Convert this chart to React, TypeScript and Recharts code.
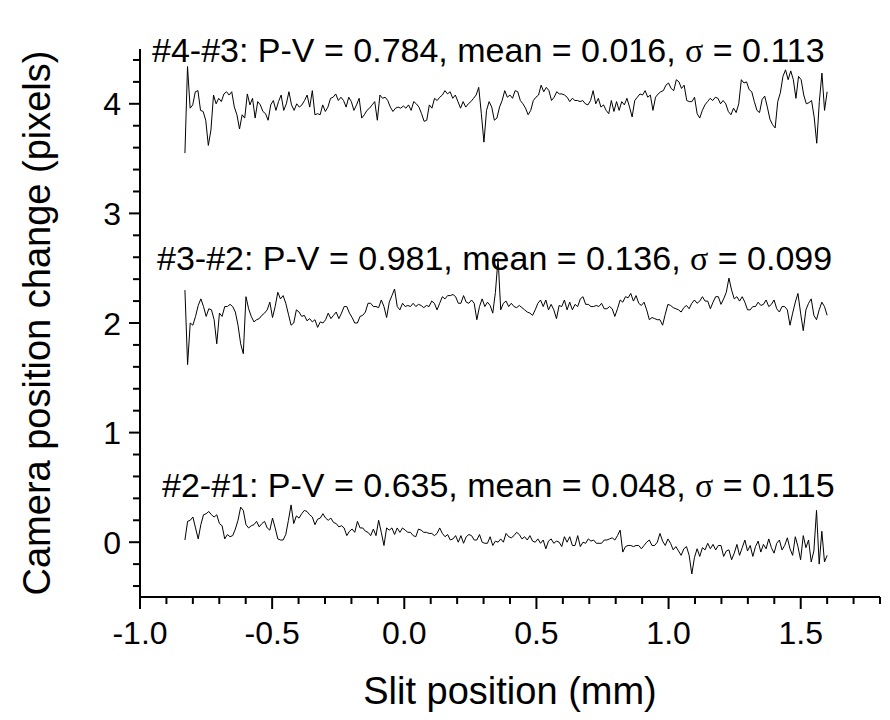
import React from 'react';
import { LineChart, Line, XAxis, YAxis } from 'recharts';

// slit scan range (mm) - samples are evenly spaced between these
const X_START = -0.83;
const X_END = 1.6;

const xTicks = [
  -1.0, -0.9, -0.8, -0.7, -0.6, -0.5, -0.4, -0.3, -0.2, -0.1, 0.0, 0.1, 0.2, 0.3, 0.4,
  0.5, 0.6, 0.7, 0.8, 0.9, 1.0, 1.1, 1.2, 1.3, 1.4, 1.5, 1.6, 1.7, 1.8,
];
const yTicks = [
  -0.4, -0.2, 0, 0.2, 0.4, 0.6, 0.8, 1, 1.2, 1.4, 1.6, 1.8, 2, 2.2, 2.4, 2.6, 2.8, 3,
  3.2, 3.4, 3.6, 3.8, 4, 4.2, 4.4,
];

const diff43 = [
  3.55, 4.34, 3.96, 3.99, 4.11, 4.12, 3.94, 3.93, 3.85, 3.62, 3.76, 4.08, 4.0, 4.05, 4.02, 4.09,
  4.11, 4.08, 4.11, 3.97, 3.9, 3.77, 3.9, 3.87, 4.09, 3.99, 4.05, 3.87, 4.02, 3.99, 3.93, 3.91,
  3.85, 3.99, 4.03, 3.94, 4.02, 4.08, 3.94, 4.0, 4.11, 3.99, 3.94, 4.0, 3.97, 3.99, 4.03, 4.08,
  3.97, 4.12, 3.9, 3.91, 3.9, 3.99, 3.93, 3.97, 4.05, 4.06, 4.09, 4.03, 4.06, 4.03, 3.97, 4.06,
  4.02, 3.94, 3.99, 4.05, 3.87, 3.9, 3.94, 3.96, 3.99, 4.02, 3.85, 4.08, 4.05, 4.06, 4.03, 3.97,
  3.93, 3.96, 3.97, 3.96, 3.98, 3.96, 3.99, 3.94, 4.02, 4.0, 3.97,
  3.91, 3.84, 3.85, 3.99, 3.96, 4.05, 4.03, 4.06, 4.08, 4.12, 4.09, 4.11, 4.05, 4.08, 4.02, 3.96,
  4.02, 3.97, 4.0, 4.02, 4.05, 4.08, 4.15, 3.91, 3.65, 3.94, 4.02, 3.97, 3.85, 3.87, 3.97, 4.03,
  4.12, 4.06, 4.08, 4.05, 4.12, 4.11, 4.03, 4.0, 3.96, 3.9, 3.94, 4.03, 4.06, 4.08, 4.17, 4.11,
  4.15, 4.12, 4.03, 4.06, 4.11, 4.09, 4.09, 4.08, 4.06, 4.02, 4.05, 4.03, 4.03, 4.02, 4.03, 4.0,
  3.99, 4.03, 4.12, 4.0, 4.05, 3.97, 3.99, 3.94, 3.91, 4.03, 3.93, 4.02, 3.94, 4.02, 3.99, 4.05,
  3.97, 3.88, 4.03, 4.06, 4.09, 4.08, 4.12, 4.06, 4.08, 3.94, 4.06, 4.09, 4.11, 4.12, 4.17, 4.19,
  4.14, 4.12, 4.22, 4.2, 4.14, 4.17, 4.03, 4.02, 4.02, 4.06, 3.91, 3.87, 3.94, 3.99, 4.02, 4.05,
  4.03, 4.06, 4.05, 4.0, 4.03, 4.0, 3.93, 3.9,
  3.96, 3.92, 4.0, 4.22, 4.19, 4.2, 4.13, 4.11, 4.02, 3.94, 3.92, 4.04, 4.07, 3.97, 3.86, 3.81,
  3.78, 4.02, 4.1, 4.25, 4.31, 4.22, 4.3, 4.22, 4.05, 4.25, 4.22, 4.08, 4.0, 4.01, 4.03, 3.88,
  3.64, 4.02, 4.28, 3.94, 4.11,
];

const diff32 = [
  2.3, 1.62, 2.0, 1.98, 2.06, 2.16, 2.22, 2.15, 2.06, 2.13, 2.12, 2.03, 1.81, 2.09, 2.06, 2.15,
  2.15, 2.17, 2.15, 2.1, 1.98, 1.81, 1.72, 2.24, 2.13, 2.06, 2.01, 2.03, 2.04, 2.07, 2.09, 2.12,
  2.19, 2.05, 2.15, 2.28, 2.22, 2.25, 2.18, 2.08, 1.98, 2.0, 2.12, 2.1, 2.06, 2.07, 2.02, 2.04,
  2.01, 2.03, 1.96, 2.01, 2.0, 2.03, 2.09, 2.04, 2.07, 2.1, 2.04, 2.09, 2.15, 2.15, 2.09, 2.05,
  2.0, 2.0, 2.06, 2.07, 2.1, 2.18, 2.18, 2.15, 2.15, 2.14, 2.21, 2.15, 2.05, 2.19, 2.25, 2.31,
  2.15, 2.12, 2.18, 2.15, 2.16, 2.15, 2.18, 2.15, 2.17, 2.16, 2.14, 2.16, 2.15,
  2.2, 2.18, 2.12, 2.18, 2.24, 2.22, 2.25, 2.25, 2.26, 2.24, 2.18, 2.18, 2.25, 2.19, 2.18, 2.21,
  2.18, 2.03, 2.15, 2.22, 2.15, 2.19, 2.16, 2.09, 2.28, 2.59, 2.12, 2.18, 2.2, 2.15, 2.18, 2.15,
  2.14, 2.16, 2.14, 2.12, 2.1, 2.09, 2.07, 2.12, 2.18, 2.21, 2.15, 2.21, 2.12, 2.17, 2.12, 2.04,
  2.16, 2.15, 2.21, 2.12, 2.19, 2.12, 2.17, 2.15, 2.22, 2.24, 2.17, 2.17, 2.15, 2.15, 2.16, 2.15,
  2.18, 2.13, 2.13, 2.15, 2.13, 2.06, 2.13, 2.21, 2.19, 2.24, 2.23, 2.27, 2.2, 2.25, 2.18, 2.16,
  2.19, 2.12, 2.03, 2.05, 2.04, 2.03, 2.03, 1.98, 2.08, 2.17, 2.16, 2.14, 2.13, 2.12, 2.1, 2.14,
  2.16, 2.13, 2.18, 2.21, 2.18, 2.2, 2.24, 2.2, 2.2, 2.13, 2.19, 2.24, 2.24, 2.17, 2.22, 2.28, 2.41,
  2.3, 2.22, 2.24, 2.2, 2.24, 2.19, 2.12, 2.12, 2.15, 2.15, 2.19, 2.16, 2.17, 2.21, 2.15, 2.17,
  2.21, 2.13, 2.1, 2.15, 2.15, 2.12, 1.98, 2.09, 2.19, 2.27, 2.09, 1.93, 2.12, 2.18, 2.22, 2.07,
  2.03, 2.12, 2.19, 2.15, 2.07,
];

const diff21 = [
  0.02, 0.19, 0.2, 0.23, 0.13, 0.03, 0.16, 0.25, 0.26, 0.28, 0.25, 0.23, 0.25, 0.17, 0.15, 0.03,
  0.07, 0.05, 0.06, 0.12, 0.2, 0.32, 0.29, 0.16, 0.13, 0.15, 0.16, 0.19, 0.14, 0.17, 0.19, 0.13,
  0.11, 0.22, 0.13, 0.03, 0.02, 0.02, 0.07, 0.2, 0.34, 0.17, 0.24, 0.22, 0.26, 0.29, 0.28, 0.25,
  0.23, 0.16, 0.21, 0.22, 0.26, 0.22, 0.2, 0.22, 0.18, 0.17, 0.14, 0.15, 0.13, 0.06, 0.1, 0.12,
  0.09, 0.19, 0.13, 0.13, 0.1, 0.09, 0.06, 0.12, 0.06, 0.2, 0.09, -0.03, 0.13, 0.11, 0.13, 0.07,
  0.13, 0.09, 0.13, 0.11, 0.09, 0.09, 0.06, 0.05, 0.12, 0.11, 0.09, 0.09, 0.08,
  0.08, 0.06, 0.08, 0.13, 0.08, 0.05, 0.07, 0.02, 0.03, 0.06, 0.0, 0.06, -0.01, 0.05, 0.07, 0.06,
  0.02, 0.02, 0.07, 0.0, -0.01, -0.01, 0.05, -0.03, 0.01, 0.0, 0.03, 0.0, 0.08, 0.05, 0.04, 0.06,
  0.09, 0.07, 0.03, 0.05, 0.02, 0.06, 0.01, 0.0, 0.03, -0.01, 0.02, -0.06, 0.01, 0.03, -0.01, 0.01,
  0.0, -0.04, 0.05, 0.0, 0.05, -0.03, -0.03, 0.06, -0.04, 0.0, -0.01, 0.03, 0.01, 0.02, -0.01, -0.01,
  -0.01, 0.02, 0.02, 0.03, 0.04, 0.02, 0.06, 0.11, -0.09, -0.04, -0.03, -0.03, -0.04, -0.03, -0.03, -0.06,
  -0.03, 0.0, 0.02, -0.03, -0.03, 0.0, 0.08, 0.01, -0.03, 0.03, -0.01, -0.07, -0.04, -0.08, -0.12, -0.06,
  -0.04, -0.12, -0.29, -0.14, -0.06, -0.13, -0.05, -0.07, -0.01, -0.06, -0.02, -0.07, -0.03, -0.03, -0.13, -0.08,
  -0.07, -0.16,
  -0.1, -0.02, -0.12, -0.05, 0.02, -0.08, -0.03, -0.13, -0.04, 0.01, -0.09, -0.02, -0.06, 0.03, -0.05, -0.1,
  -0.01, 0.02, -0.07, -0.03, 0.04, -0.06, -0.12, 0.05, -0.04, -0.16, 0.06, -0.05, 0.02, -0.18, -0.08, 0.29,
  -0.2, 0.1, -0.18, -0.12,
];

const pairNames = ['#4-#3', '#3-#2', '#2-#1'];
const pvValues = ['0.784', '0.981', '0.635'];
const meanValues = ['0.016', '0.136', '0.048'];
const sigmaValues = ['0.113', '0.099', '0.115'];

const FONT = '"Liberation Sans", Arial, sans-serif';

// spread the samples evenly over the scan range
const toPoints = (vals: number[]) => {
  const step = (X_END - X_START) / (vals.length - 1);
  return vals.map((v, i) => ({ x: X_START + i * step, y: v }));
};

const XTick = ({ x, y, payload }: any) => {
  const v = payload.value;
  const major = Math.abs(v * 2 - Math.round(v * 2)) < 1e-6;
  return (
    <g>
      <line x1={x} y1={y} x2={x} y2={y + (major ? 12 : 7)} stroke="#000" strokeWidth={2} />
      {major && (
        <text x={x} y={y + 47} textAnchor="middle" fontSize={32} fontFamily={FONT} fill="#000">
          {v.toFixed(1)}
        </text>
      )}
    </g>
  );
};

const YTick = ({ x, y, payload }: any) => {
  const v = payload.value;
  const major = Math.abs(v - Math.round(v)) < 1e-6;
  return (
    <g>
      <line x1={x} y1={y} x2={x - (major ? 11 : 7)} y2={y} stroke="#000" strokeWidth={2} />
      {major && (
        <text x={x - 19} y={y} dy="0.36em" textAnchor="end" fontSize={32} fontFamily={FONT} fill="#000">
          {Math.round(v)}
        </text>
      )}
    </g>
  );
};

// pixel anchors for the three annotation lines
const notePos = [
  { x: 152, y: 62 },
  { x: 157, y: 270 },
  { x: 162, y: 497 },
];

export default function App() {
  const series = [diff43, diff32, diff21].map(toPoints);

  return (
    <div style={{ position: 'absolute', left: 0, top: 0, width: 890, height: 720, background: '#fff' }}>
      <LineChart width={890} height={720} margin={{ top: 49, right: 10, bottom: 63, left: 60 }}>
        <XAxis
          type="number"
          dataKey="x"
          domain={[-1, 1.8]}
          ticks={xTicks}
          interval={0}
          allowDataOverflow
          height={60}
          tickLine={false}
          tickSize={0}
          tickMargin={0}
          tick={<XTick />}
          axisLine={{ stroke: '#000', strokeWidth: 2 }}
        />
        <YAxis
          type="number"
          dataKey="y"
          domain={[-0.5, 4.5]}
          ticks={yTicks}
          interval={0}
          allowDataOverflow
          width={80}
          tickLine={false}
          tickSize={0}
          tickMargin={0}
          tick={<YTick />}
          axisLine={{ stroke: '#000', strokeWidth: 2 }}
        />
        {series.map((d, i) => (
          <Line
            key={pairNames[i]}
            data={d}
            dataKey="y"
            type="linear"
            stroke="#000"
            strokeWidth={1}
            dot={false}
            isAnimationActive={false}
          />
        ))}
        {notePos.map((p, i) => (
          <text key={i} x={p.x} y={p.y} fontSize={34} fontFamily={FONT} fill="#000">
            {`${pairNames[i]}: P-V = ${pvValues[i]}, mean = ${meanValues[i]}, `}
            <tspan fontFamily='"Liberation Serif", "Times New Roman", serif'>σ</tspan>
            {` = ${sigmaValues[i]}`}
          </text>
        ))}
        <text x={510} y={704} textAnchor="middle" fontSize={38} fontFamily={FONT} fill="#000">
          Slit position (mm)
        </text>
        <text
          x={0}
          y={0}
          transform="translate(50 323) rotate(-90)"
          textAnchor="middle"
          fontSize={38}
          fontFamily={FONT}
          fill="#000"
        >
          Camera position change (pixels)
        </text>
      </LineChart>
    </div>
  );
}
